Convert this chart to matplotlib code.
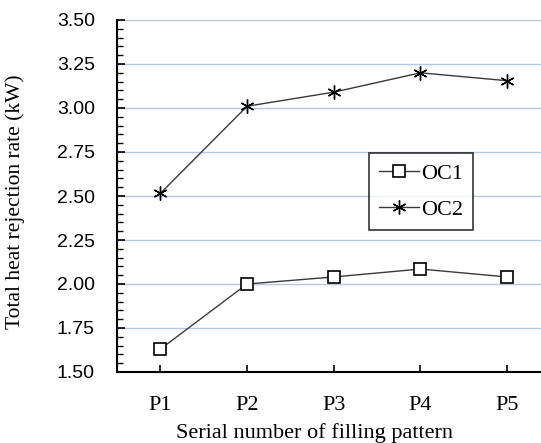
import matplotlib
matplotlib.use("Agg")
import matplotlib.pyplot as plt
from matplotlib.ticker import MultipleLocator

patterns = ["P1", "P2", "P3", "P4", "P5"]
oc1 = [1.63, 2.00, 2.04, 2.085, 2.04]
oc2 = [2.515, 3.01, 3.09, 3.20, 3.155]

serif = "Liberation Serif"
sans = "Liberation Sans"

fig = plt.figure(figsize=(5.41, 4.43), dpi=100)
ax = fig.add_axes([117 / 541, 1 - 372 / 443, (541 - 117) / 541, (372 - 20) / 443])

x = range(len(patterns))
ax.plot(x, oc1, color="#3a3a3a", linewidth=1.0, marker="s", markersize=8,
        markerfacecolor="white", markeredgecolor="black", markeredgewidth=1.2, label="OC1")
ax.plot(x, oc2, color="#3a3a3a", linewidth=1.0, marker=(6, 2, 0), markersize=10,
        markeredgecolor="black", markeredgewidth=1.0, label="OC2")

ax.set_xlim(-0.5, 4.39)
ax.set_ylim(1.5, 3.5)
ax.yaxis.set_major_locator(MultipleLocator(0.25))
ax.yaxis.set_minor_locator(MultipleLocator(0.05))
ax.set_xticks(list(x), patterns)
ax.yaxis.set_major_formatter(lambda v, p: f"{v:.2f}")
ax.grid(axis="y", color="#b4c7e7", linewidth=1.0)
ax.set_axisbelow(True)

for side in ("top", "right"):
    ax.spines[side].set_visible(False)
for side in ("left", "bottom"):
    ax.spines[side].set_linewidth(1.5)

ax.tick_params(axis="y", which="major", direction="in", length=6, width=1.2, pad=16)
ax.tick_params(axis="y", which="minor", direction="in", length=4, width=1.0)
ax.tick_params(axis="x", which="major", direction="in", length=5, width=1.2, pad=17)
for lbl in ax.get_yticklabels():
    lbl.set_fontfamily(sans)
    lbl.set_fontsize(14)
for lbl in ax.get_xticklabels():
    lbl.set_fontfamily(serif)
    lbl.set_fontsize(16)

ax.set_xlabel("Serial number of filling pattern", family=serif, fontsize=16)
ax.xaxis.set_label_coords(0.465, -0.145)
ax.set_ylabel("Total heat rejection rate (kW)", family=serif, fontsize=15.5)
ax.yaxis.set_label_coords(-0.217, 0.483)

leg = ax.legend(loc="upper left", bbox_to_anchor=(0.594, 0.622),
                prop={"family": serif, "size": 16}, frameon=True, fancybox=False,
                edgecolor="black", handlelength=1.8, handletextpad=0.1,
                borderpad=0.45, labelspacing=0.7, borderaxespad=0)
leg.get_frame().set_linewidth(1.2)

fig.savefig("out.png", dpi=100)
